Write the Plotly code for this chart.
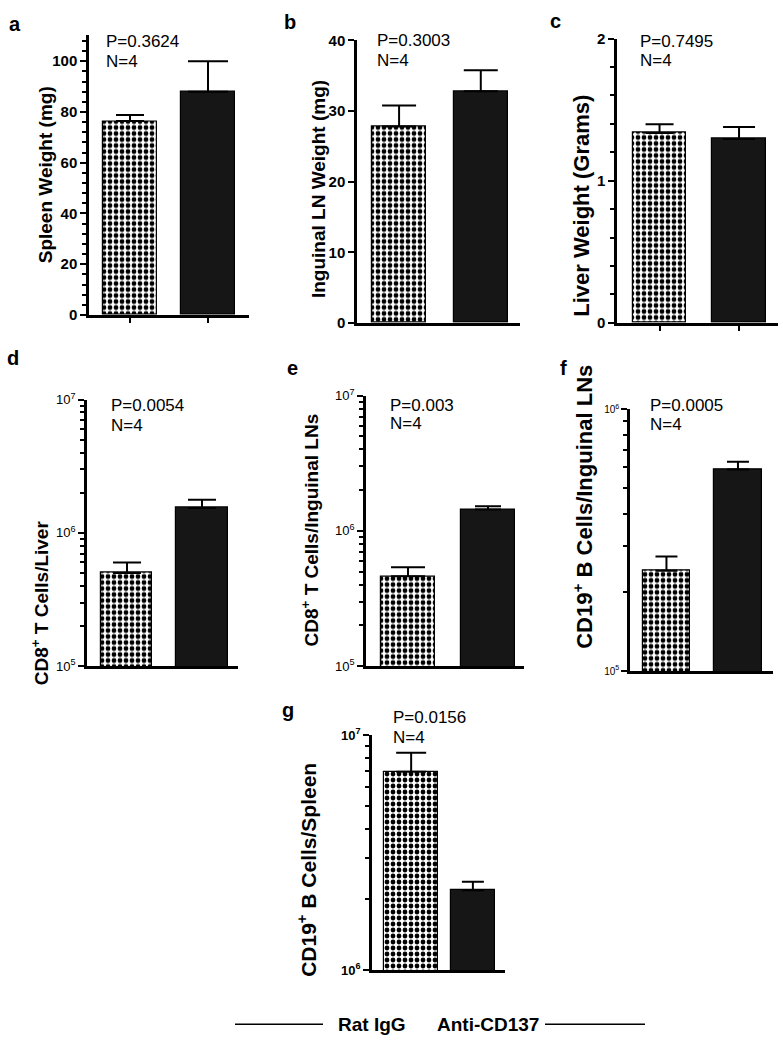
import plotly.graph_objects as go

W, H = 783, 1050

groups = ["Rat IgG", "Anti-CD137"]

# panel a: spleen weight (mg)
spleen_wt = [76.4, 88.0]
spleen_wt_sem = [2.4, 12.0]
# panel b: inguinal LN weight (mg)
ln_wt = [27.8, 32.8]
ln_wt_sem = [3.0, 3.0]
# panel c: liver weight (g)
liver_wt = [1.336, 1.294]
liver_wt_sem = [0.06, 0.083]
# panel d: CD8+ T cells / liver
cd8_liver = [5.0e5, 1.54e6]
cd8_liver_sem = [1.0e5, 2.3e5]
# panel e: CD8+ T cells / inguinal LNs
cd8_ln = [4.63e5, 1.44e6]
cd8_ln_sem = [0.76e5, 0.08e6]
# panel f: CD19+ B cells / inguinal LNs
cd19_ln = [2.42e5, 5.9e5]
cd19_ln_sem = [0.32e5, 0.41e5]
# panel g: CD19+ B cells / spleen
cd19_spleen = [6.98e6, 2.19e6]
cd19_spleen_sem = [1.42e6, 0.19e6]

p_values = ["P=0.3624", "P=0.3003", "P=0.7495", "P=0.0054", "P=0.003", "P=0.0005", "P=0.0156"]
n_label = "N=4"

FONT = "Liberation Sans, Arial, Helvetica, sans-serif"


def fx(px):
    return px / W


def fy(py):
    return 1 - py / H


fig = go.Figure()

panels = [
    dict(vals=spleen_wt, sem=spleen_wt_sem, title="Spleen Weight (mg)", letter="a",
         box=(89, 249, 26, 311), xr=[-0.526, 1.526], bw=0.69, cap=[14, 20],
         ytype="linear", yr=[0, 110.5], major=dict(dtick=20, tick0=0), minor=dict(dtick=4, tick0=0),
         tickfont=dict(size=15, bold=True), xticks=True, tsize=19,
         letter_xy=(15, 15), p_xy=(104, 33), n_xy=(104, 53), ytitle_xy=(45, 169)),
    dict(vals=ln_wt, sem=ln_wt_sem, title="Inguinal LN Weight (mg)", letter="b",
         box=(357, 520, 32, 319), xr=[-0.515, 1.48], bw=0.66, cap=[17, 17],
         ytype="linear", yr=[0, 40], major=dict(dtick=10, tick0=0), minor=None,
         tickfont=dict(size=15, bold=True), xticks=False, tsize=19,
         letter_xy=(290, 13), p_xy=(375, 32), n_xy=(375, 52), ytitle_xy=(318, 183)),
    dict(vals=liver_wt, sem=liver_wt_sem, title="Liver Weight (Grams)", letter="c",
         box=(617, 778, 30, 319), xr=[-0.535, 1.49], bw=0.67, cap=[14, 16],
         ytype="linear", yr=[0, 2], major=dict(dtick=1, tick0=0), minor=dict(dtick=0.2, tick0=0),
         tickfont=dict(size=15, bold=True), xticks=True, tsize=22,
         letter_xy=(555, 12), p_xy=(638, 33), n_xy=(638, 52), ytitle_xy=(582, 200)),
    dict(vals=cd8_liver, sem=cd8_liver_sem, title="CD8<sup>+</sup> T Cells/Liver", letter="d",
         box=(87, 238, 397, 668), xr=[-0.533, 1.48], bw=0.68, cap=[14, 14],
         ytype="log", yr=[5, 7], exps=[5, 6, 7],
         tickfont=dict(size=13, bold=False), xticks=False, tsize=19,
         letter_xy=(13, 355), p_xy=(109, 403), n_xy=(109, 423), ytitle_xy=(40, 604)),
    dict(vals=cd8_ln, sem=cd8_ln_sem, title="CD8<sup>+</sup> T Cells/Inguinal LNs", letter="e",
         box=(366, 524, 393, 668), xr=[-0.525, 1.45], bw=0.675, cap=[17, 13],
         ytype="log", yr=[5, 7], exps=[5, 6, 7],
         tickfont=dict(size=13, bold=False), xticks=False, tsize=19,
         letter_xy=(292, 365), p_xy=(388, 403), n_xy=(388, 421), ytitle_xy=(310, 530)),
    dict(vals=cd19_ln, sem=cd19_ln_sem, title="CD19<sup>+</sup> B Cells/Inguinal LNs", letter="f",
         box=(630, 773, 407, 673), xr=[-0.51, 1.49], bw=0.66, cap=[11, 11],
         ytype="log", yr=[5, 6], exps=[5, 6],
         tickfont=dict(size=10, bold=False), xticks=False, tsize=22,
         letter_xy=(563, 365), p_xy=(648, 403), n_xy=(648, 422), ytitle_xy=(583, 506)),
    dict(vals=cd19_spleen, sem=cd19_spleen_sem, title="CD19<sup>+</sup> B Cells/Spleen", letter="g",
         box=(372, 505, 738, 977), xr=[-0.634, 1.52], bw=[0.87, 0.71], cap=[15, 11],
         ytype="log", yr=[6, 7], exps=[6, 7],
         tickfont=dict(size=13, bold=True), xticks=False, tsize=21,
         letter_xy=(288, 713), p_xy=(391, 720), n_xy=(391, 740), ytitle_xy=(307, 875)),
]

annotations = []
layout_axes = {}

for i, p in enumerate(panels):
    k = i + 1
    xa = "x" if k == 1 else f"x{k}"
    ya = "y" if k == 1 else f"y{k}"
    left, right, top, bottom = p["box"]

    for j in range(2):
        fig.add_trace(go.Bar(
            x=[groups[j]], y=[p["vals"][j]],
            xaxis=xa, yaxis=ya,
            width=[p["bw"][j] if isinstance(p["bw"], list) else p["bw"]],
            marker=dict(
                color="white" if j == 0 else "#161616",
                line=dict(color="black", width=1.2),
                pattern=dict(shape="." if j == 0 else "", fgcolor="black", bgcolor="white",
                             fgopacity=1, size=6, solidity=0.5, fillmode="overlay"),
            ),
            error_y=dict(type="data", symmetric=False, array=[p["sem"][j]], arrayminus=[0],
                         color="black", thickness=2, width=p["cap"][j]),
            showlegend=False,
            hoverinfo="skip",
        ))

    xkey = "xaxis" if k == 1 else f"xaxis{k}"
    ykey = "yaxis" if k == 1 else f"yaxis{k}"
    layout_axes[xkey] = dict(
        domain=[fx(left), fx(right)], anchor=ya, type="category",
        categoryorder="array", categoryarray=groups,
        range=p["xr"], showline=True, linecolor="black", linewidth=2.5,
        showticklabels=False, showgrid=False, zeroline=False,
        ticks="outside" if p["xticks"] else "", ticklen=5, tickwidth=2, tickcolor="black",
    )
    yax = dict(
        domain=[fy(bottom), fy(top)], anchor=xa, type=p["ytype"], range=p["yr"],
        showline=True, linecolor="black", linewidth=2.5, showgrid=False, zeroline=False,
        ticks="outside", ticklen=6, tickwidth=2, tickcolor="black",
        tickfont=dict(family=FONT, color="black", size=p["tickfont"]["size"],
                      weight="bold" if p["tickfont"]["bold"] else "normal"),
    )
    if p["ytype"] == "linear":
        yax.update(tickmode="linear", tick0=p["major"]["tick0"], dtick=p["major"]["dtick"])
        if p["minor"]:
            yax["minor"] = dict(tickmode="linear", tick0=p["minor"]["tick0"], dtick=p["minor"]["dtick"],
                                ticks="outside", ticklen=4, tickwidth=2, tickcolor="black", showgrid=False)
    else:
        exps = p["exps"]
        yax.update(tickmode="array", tickvals=[10 ** e for e in exps],
                   ticktext=[f"10<sup>{e}</sup>" for e in exps])
        mv = [m * 10 ** e for e in exps[:-1] for m in range(2, 10)]
        yax["minor"] = dict(tickmode="array", tickvals=mv, ticks="outside", ticklen=4,
                            tickwidth=2, tickcolor="black", showgrid=False)
    layout_axes[ykey] = yax

    lx, ly = p["letter_xy"]
    annotations.append(dict(text=f"<b>{p['letter']}</b>", x=fx(lx), y=fy(ly), xref="paper", yref="paper",
                            xanchor="center", yanchor="middle", showarrow=False,
                            font=dict(family=FONT, size=20, color="black")))
    px_, py_ = p["p_xy"]
    annotations.append(dict(text=p_values[i], x=fx(px_), y=fy(py_), xref="paper", yref="paper",
                            xanchor="left", yanchor="middle", showarrow=False,
                            font=dict(family=FONT, size=17, color="black")))
    nx_, ny_ = p["n_xy"]
    annotations.append(dict(text=n_label, x=fx(nx_), y=fy(ny_), xref="paper", yref="paper",
                            xanchor="left", yanchor="middle", showarrow=False,
                            font=dict(family=FONT, size=17, color="black")))
    tx, ty = p["ytitle_xy"]
    annotations.append(dict(text=f"<b>{p['title']}</b>", x=fx(tx), y=fy(ty), xref="paper", yref="paper",
                            xanchor="center", yanchor="middle", textangle=-90, showarrow=False,
                            font=dict(family=FONT, size=p["tsize"], color="black")))

annotations.append(dict(text="<b>Rat IgG</b>", x=fx(372), y=fy(1032), xref="paper", yref="paper",
                        xanchor="center", yanchor="middle", showarrow=False,
                        font=dict(family=FONT, size=19, color="black")))
annotations.append(dict(text="<b>Anti-CD137</b>", x=fx(488), y=fy(1032), xref="paper", yref="paper",
                        xanchor="center", yanchor="middle", showarrow=False,
                        font=dict(family=FONT, size=19, color="black")))
shapes = [
    dict(type="line", xref="paper", yref="paper", x0=fx(235), x1=fx(323), y0=fy(1032), y1=fy(1032),
         line=dict(color="black", width=1.5)),
    dict(type="line", xref="paper", yref="paper", x0=fx(545), x1=fx(645), y0=fy(1032), y1=fy(1032),
         line=dict(color="black", width=1.5)),
]

fig.update_layout(
    width=W, height=H,
    margin=dict(l=0, r=0, t=0, b=0),
    paper_bgcolor="white", plot_bgcolor="white",
    showlegend=False, bargap=0,
    font=dict(family=FONT, color="black"),
    annotations=annotations, shapes=shapes,
    **layout_axes,
)

fig.write_html("out.html", config={"displayModeBar": False},
               post_script="document.body.style.margin='0';document.body.style.overflow='hidden';")
